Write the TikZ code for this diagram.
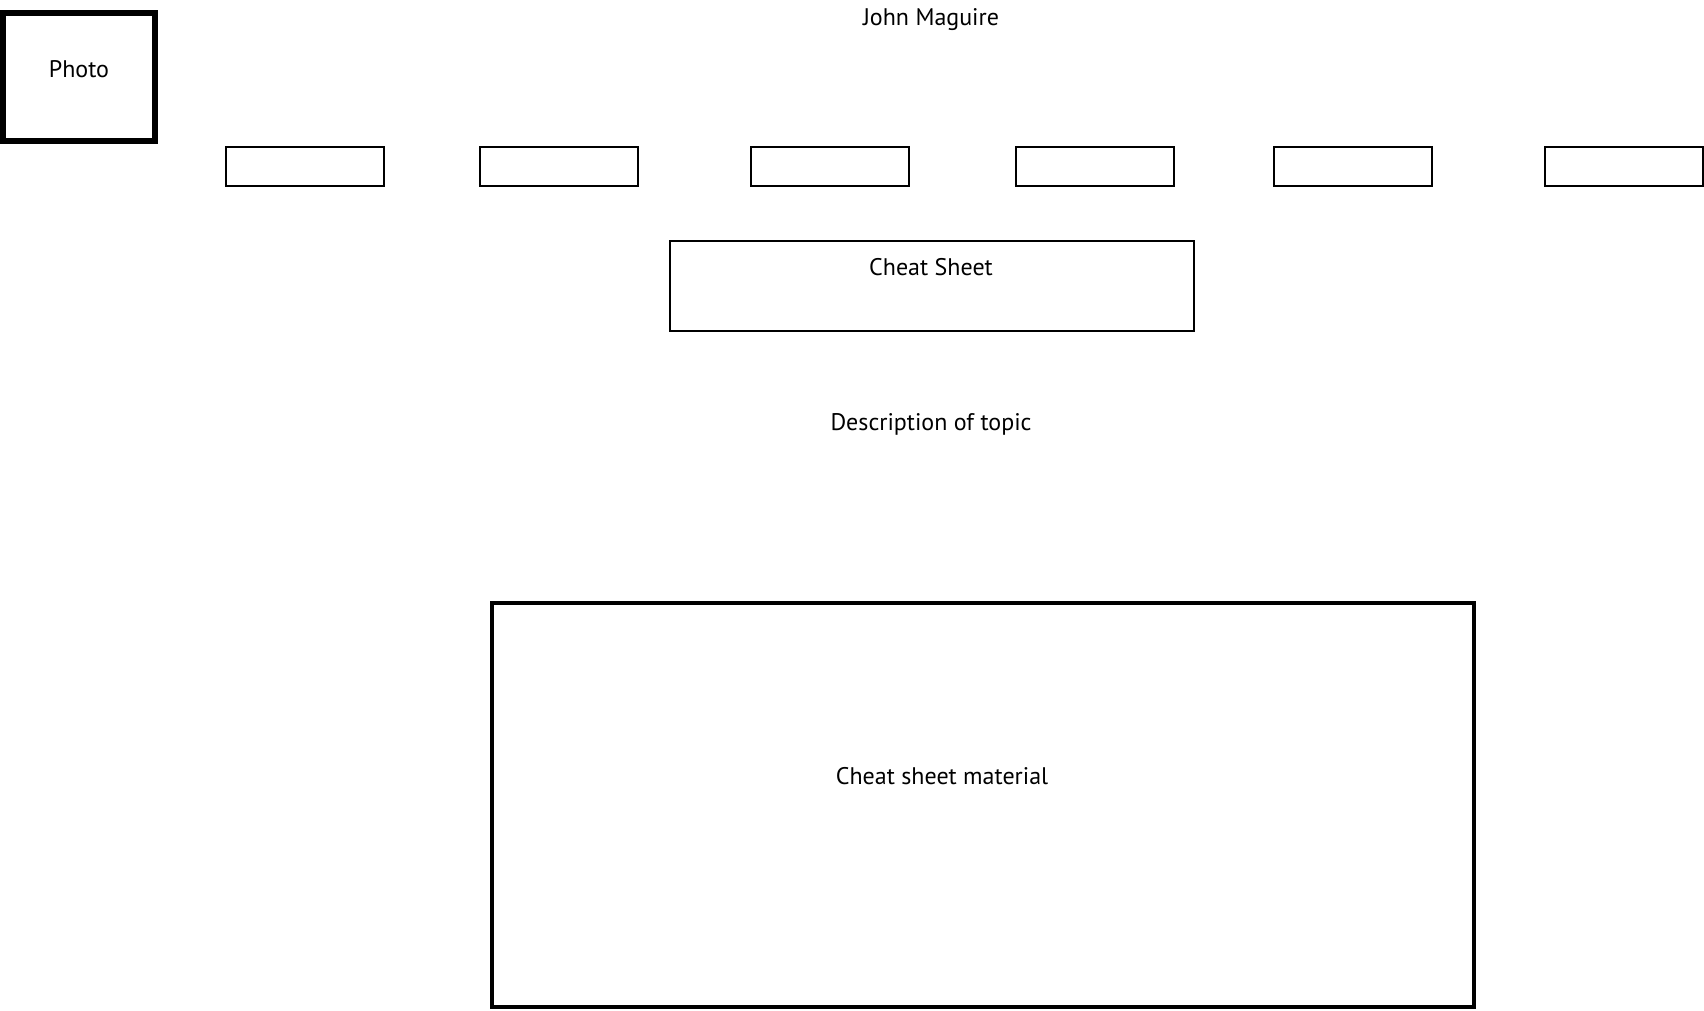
\documentclass[tikz,border=0pt]{standalone}
\usepackage{fontspec}
\setmainfont{PT Sans}
\begin{document}
\begin{tikzpicture}[x=1pt,y=-1pt,
  thinbox/.style={draw=black,line width=2pt,minimum width=158pt,minimum height=39pt,inner sep=0pt,anchor=center},
  lbl/.style={anchor=base,inner sep=0pt,font=\fontsize{24}{28}\selectfont}]
\useasboundingbox[fill=white] (0,0) rectangle (1704,1010);
% photo
\node (photo) [draw=black,line width=6pt,minimum width=152pt,minimum height=128pt,inner sep=0pt] at (79,77) {};
\node (photoT) [lbl] at (79,77) {Photo};
% title
\node (name) [lbl] at (931,25) {John Maguire};
% nav boxes
\node (n1) [thinbox] at (305,166.5) {};
\node (n2) [thinbox] at (559,166.5) {};
\node (n3) [thinbox] at (830,166.5) {};
\node (n4) [thinbox] at (1094.5,166.5) {};
\node (n5) [thinbox] at (1353,166.5) {};
\node (n6) [thinbox] at (1623.5,166.5) {};
% cheat sheet header
\node (cs) [draw=black,line width=2pt,minimum width=524pt,minimum height=90pt,inner sep=0pt] at (931.5,286) {};
\node (csT) [lbl] at (931,275) {Cheat Sheet};
\node (desc) [lbl] at (931,430) {Description of topic};
% material
\node (mat) [draw=black,line width=4pt,minimum width=982pt,minimum height=404pt,inner sep=0pt] at (983,805) {};
\node (matT) [lbl] at (942,784) {Cheat sheet material};
\end{tikzpicture}
\end{document}
